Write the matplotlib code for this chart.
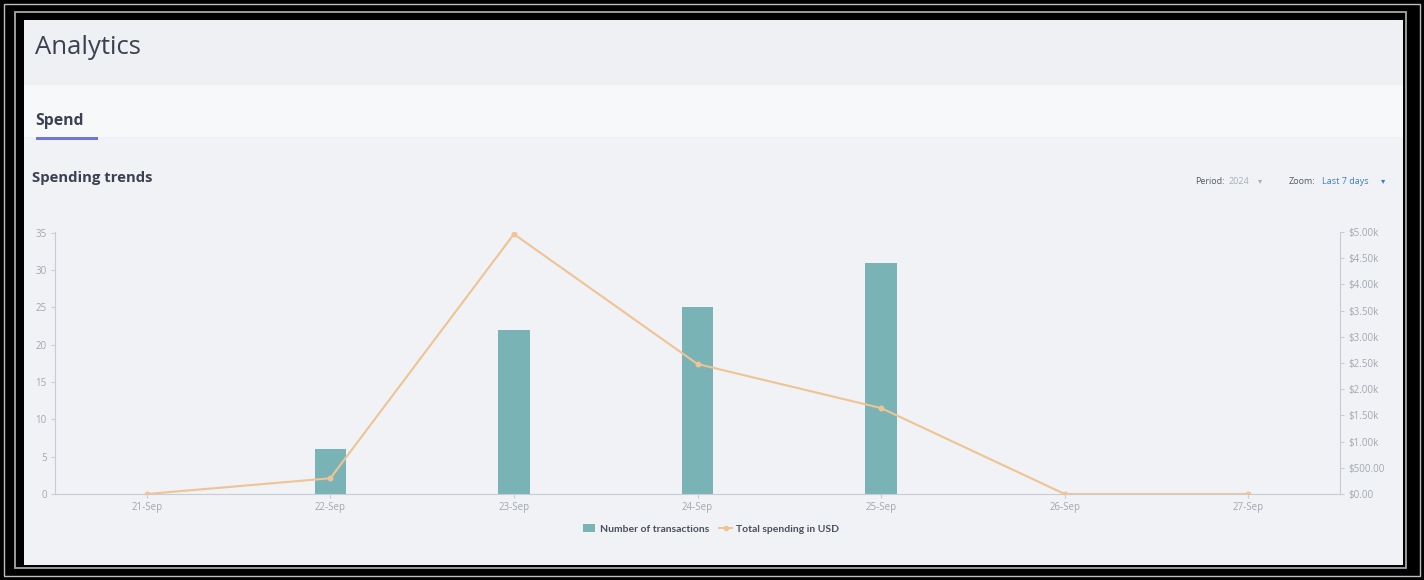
import numpy as np
import matplotlib.pyplot as plt
from matplotlib.patches import Rectangle
from matplotlib.lines import Line2D
from matplotlib.ticker import FuncFormatter

plt.rcParams['font.family'] = ['Open Sans', 'DejaVu Sans']

dates = ['21-Sep', '22-Sep', '23-Sep', '24-Sep', '25-Sep', '26-Sep', '27-Sep']
transactions = [0, 6, 22, 25, 31, 0, 0]
spending = [0, 300, 4960, 2480, 1640, 0, 0]
left_ticks = [0, 5, 10, 15, 20, 25, 30, 35]
right_ticks = [0, 500, 1000, 1500, 2000, 2500, 3000, 3500, 4000, 4500, 5000]

W, H = 1424, 580
fig = plt.figure(figsize=(W / 100, H / 100), dpi=100)
fig.patch.set_facecolor('black')


def box(x0, y0, x1, y1, **kw):
    # pixel coords, y measured from the top
    r = Rectangle((x0 / W, 1 - y1 / H), (x1 - x0) / W, (y1 - y0) / H,
                  transform=fig.transFigure, zorder=-10, **kw)
    fig.add_artist(r)


def txt(x, y, s, **kw):
    fig.text(x / W, 1 - y / H, s, **kw)


# frame lines
box(4, 4, 1420, 576, fill=False, edgecolor='#bdbdbd', lw=1.0)
box(15, 12, 1406, 568, fill=False, edgecolor='#a8a8a8', lw=1.3)

# page bands
box(24, 20, 1403, 565, facecolor='#f0f2f6', edgecolor='none')
box(24, 20, 1403, 85, facecolor='#eef0f4', edgecolor='none')
box(24, 85, 1403, 137, facecolor='#f7f8fa', edgecolor='none')
box(36, 137, 98, 140, facecolor='#6f78d8', edgecolor='none')

dark = '#3b4150'
txt(35, 47, 'Analytics', fontsize=18.5, color=dark, va='center')
txt(35, 121, 'Spend', fontsize=11.3, color=dark, weight='bold', va='center')
txt(32, 178, 'Spending trends', fontsize=10.7, color=dark, weight='bold', va='center')

txt(1195, 181, 'Period:', fontsize=6.5, color='#555a66', va='center')
txt(1229, 181, '2024', fontsize=6.5, color='#aaaeb5', va='center')
txt(1258, 181, '▾', fontsize=6, color='#aaaeb5', va='center', family='DejaVu Sans')
txt(1289, 181, 'Zoom:', fontsize=6.5, color='#555a66', va='center')
txt(1322, 181, 'Last 7 days', fontsize=6.5, color='#3d7dc9', va='center')
txt(1381, 181, '▾', fontsize=6, color='#3d7dc9', va='center', family='DejaVu Sans')

# chart
ax = fig.add_axes([55 / W, 1 - 494 / H, (1340 - 55) / W, (494 - 232) / H])
ax.set_facecolor('none')
x = np.arange(len(dates))
bar_c = '#7ab3b5'
line_c = '#efc393'
ax.bar(x, transactions, width=0.17, color=bar_c, zorder=2)
ax.set_xlim(-0.5, len(dates) - 0.5)
ax.set_ylim(0, 35.1)
ax.set_yticks(left_ticks)
ax.set_xticks(x)
ax.set_xticklabels(dates)

ax2 = ax.twinx()
ax2.plot(x, spending, color=line_c, lw=1.5, marker='o', ms=3.2, zorder=3)
ax2.set_ylim(0, 5000)
ax2.set_yticks(right_ticks)


def usd(v, pos):
    if v >= 1000:
        return '${:.2f}k'.format(v / 1000)
    return '${:.2f}'.format(v)


ax2.yaxis.set_major_formatter(FuncFormatter(usd))

tick_c = '#a3a7ae'
axis_c = '#c9cdd3'
for a in (ax, ax2):
    for s in a.spines.values():
        s.set_visible(False)
    a.tick_params(colors=axis_c, labelcolor=tick_c, labelsize=7, length=3, width=0.8)
ax.spines['left'].set_visible(True)
ax.spines['left'].set_color(axis_c)
ax.spines['bottom'].set_visible(True)
ax.spines['bottom'].set_color(axis_c)
ax2.spines['right'].set_visible(True)
ax2.spines['right'].set_color(axis_c)
ax.tick_params(axis='x', length=3, pad=3)
ax.tick_params(axis='y', pad=3)
ax2.tick_params(axis='y', pad=3)

handles = [Rectangle((0, 0), 1, 1, facecolor=bar_c),
           Line2D([], [], color=line_c, lw=1.4, marker='o', ms=3)]
leg = fig.legend(handles, ['Number of transactions', 'Total spending in USD'],
                 loc='center', bbox_to_anchor=(711 / W, 1 - 529 / H), ncol=2,
                 frameon=False, handlelength=1.2, handletextpad=0.4,
                 columnspacing=1.0,
                 prop={'family': 'Lato', 'weight': 'bold', 'size': 7.5})
for t in leg.get_texts():
    t.set_color('#4a505c')

fig.savefig('out.png', dpi=100, facecolor=fig.get_facecolor())
